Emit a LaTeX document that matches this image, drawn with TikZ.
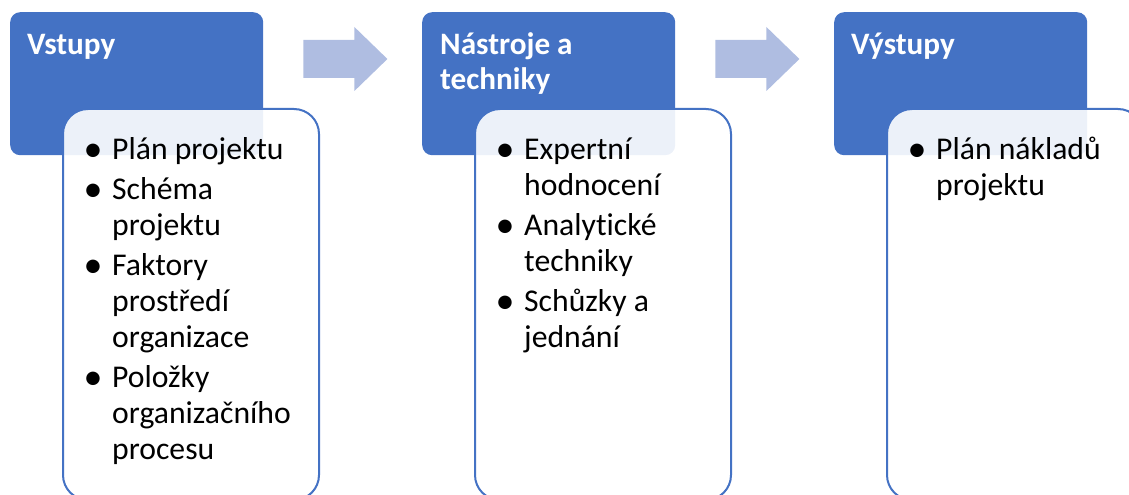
\documentclass[tikz,border=0pt]{standalone}
\usepackage{fontspec}
\setmainfont{Carlito}[Ligatures=NoCommon]
\definecolor{accent}{HTML}{4472C4}
\definecolor{arrowfill}{HTML}{AFBDE1}
% one bullet item; the bullet hangs to the left of the text column
\newcommand\bul{\par\noindent\llap{\makebox[38bp]{\raisebox{-1.8bp}{\scalebox{1.2}{\textbullet}}}}}
\tikzset{
  headbox/.style={fill=accent, draw=none, rounded corners=10bp, inner sep=0pt,
    anchor=north west, minimum width=253bp, minimum height=143bp},
  listbox/.style={draw=accent, line width=2bp, fill=white, fill opacity=0.9,
    rounded corners=25bp, inner sep=0pt, anchor=north west,
    minimum width=256bp, minimum height=391bp},
  flowarrow/.style={fill=arrowfill, draw=none},
  headtext/.style={anchor=base west, inner sep=0pt, text=white,
    font=\fontsize{31.3}{35}\selectfont\bfseries},
  listtext/.style={anchor=base west, inner sep=0pt, text=black,
    font=\fontsize{31.8}{36.3}\selectfont},
}
\newcommand\listcontent[1]{\parbox[t]{320bp}{\raggedright\parindent=0pt\parskip=3.7bp #1}}
\begin{document}
\begin{tikzpicture}[x=1bp,y=-1bp]
  \useasboundingbox (0,0) rectangle (1129,495);
  \clip (0,0) rectangle (1129,495);

  % stage 1: inputs
  \node[headbox] (head1) at (10,12) {};
  \node[headtext] (title1) at (27,55) {Vstupy};
  \node[listbox] (box1) at (62,108) {};
  \node[listtext] (list1) at (112,159.5) {\listcontent{%
    \bul Plán projektu
    \bul Schéma\\projektu
    \bul Faktory\\prostředí\\organizace
    \bul Položky\\organizačního\\procesu}};

  % stage 2: tools and techniques
  \node[headbox] (head2) at (422,12) {};
  \node[headtext, align=left] (title2) at (440,55) {\parbox[t]{240bp}{\baselineskip=35bp Nástroje a\\techniky}};
  \node[listbox] (box2) at (474,108) {};
  \node[listtext] (list2) at (524,159.5) {\listcontent{%
    \bul Expertní\\hodnocení
    \bul Analytické\\techniky
    \bul Schůzky a\\jednání}};

  % stage 3: outputs
  \node[headbox] (head3) at (834,12) {};
  \node[headtext] (title3) at (851,55) {Výstupy};
  \node[listbox] (box3) at (886,108) {};
  \node[listtext] (list3) at (936,159.5) {\listcontent{%
    \bul Plán nákladů\\projektu}};

  % block arrows between the stages
  \foreach \a/\b in {head1/head2, head2/head3}{
    \path (\a.north east) ++(40,15) coordinate (s);
    \fill[flowarrow] (s) ++(0,13) -- ++(51,0) -- ++(0,-13) -- ++(33,32)
      -- ++(-33,32) -- ++(0,-13) -- ++(-51,0) -- cycle;
  }
\end{tikzpicture}
\end{document}
